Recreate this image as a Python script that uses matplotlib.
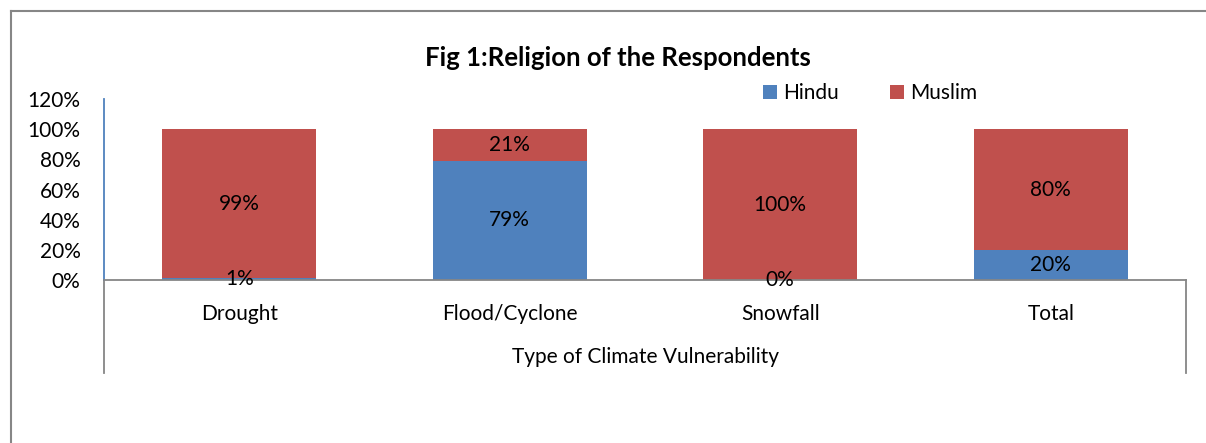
import matplotlib.pyplot as plt
import numpy as np
from matplotlib.lines import Line2D

plt.rcParams['font.family'] = ['Lato', 'DejaVu Sans']

# data: share of respondents by religion
categories = ['Drought', 'Flood/Cyclone', 'Snowfall', 'Total']
hindu = [1, 79, 0, 20]
muslim = [99, 21, 100, 80]

blue = '#4F81BD'
red = '#C0504D'
grey = '#868686'
fs = 15

fig = plt.figure(figsize=(12.06, 4.43), dpi=100)
ax = fig.add_axes([104 / 1206, 163 / 443, 1082 / 1206, 181 / 443])

x = np.arange(len(categories))
bh = ax.bar(x, hindu, width=0.57, color=blue, label='Hindu')
bm = ax.bar(x, muslim, width=0.57, bottom=hindu, color=red, label='Muslim')

# value labels centred in each segment
for i in range(len(categories)):
    ax.text(x[i], hindu[i] / 2, f'{hindu[i]}%', ha='center', va='center', fontsize=fs)
    ax.text(x[i], hindu[i] + muslim[i] / 2, f'{muslim[i]}%', ha='center', va='center', fontsize=fs)

ax.set_xlim(-0.5, 3.5)
ax.set_ylim(0, 120)
ax.set_yticks(range(0, 121, 20))
ax.set_yticklabels([f'{v}%' for v in range(0, 121, 20)])
ax.set_xticks(x)
ax.set_xticklabels(categories)
ax.tick_params(axis='y', length=0, pad=17, labelsize=fs)
ax.tick_params(axis='x', length=0, pad=17, labelsize=fs)

for s in ['top', 'right']:
    ax.spines[s].set_visible(False)
ax.spines['left'].set_color(blue)
ax.spines['left'].set_linewidth(1.3)
ax.spines['bottom'].set_color(grey)
ax.spines['bottom'].set_linewidth(1.3)

# category axis box lines below the plot
drop = -(373 - 280) / 181
for xx in [0, 1]:
    ax.add_line(Line2D([xx, xx], [0, drop], transform=ax.transAxes, color=grey, lw=1.3, clip_on=False))

ax.text(0.5, -(357 - 280) / 181, 'Type of Climate Vulnerability', transform=ax.transAxes,
        ha='center', va='center', fontsize=fs)

fig.text(618 / 1206, 1 - 58 / 443, 'Fig 1:Religion of the Respondents', ha='center', va='center',
         fontsize=18.5, fontweight='bold')

ax.legend(handles=[bh, bm], loc='center', bbox_to_anchor=(870 / 1206, 1 - 93 / 443),
          bbox_transform=fig.transFigure, ncol=2, frameon=False, fontsize=fs,
          handlelength=0.67, handleheight=0.67, handletextpad=0.3, columnspacing=2.45)

# chart area border (top and left edges)
fig.add_artist(Line2D([11 / 1206, 11 / 1206], [0, 1 - 11 / 443], color=grey, lw=1.5))
fig.add_artist(Line2D([11 / 1206, 1], [1 - 11 / 443, 1 - 11 / 443], color=grey, lw=1.5))

fig.savefig('out.png', dpi=100)
